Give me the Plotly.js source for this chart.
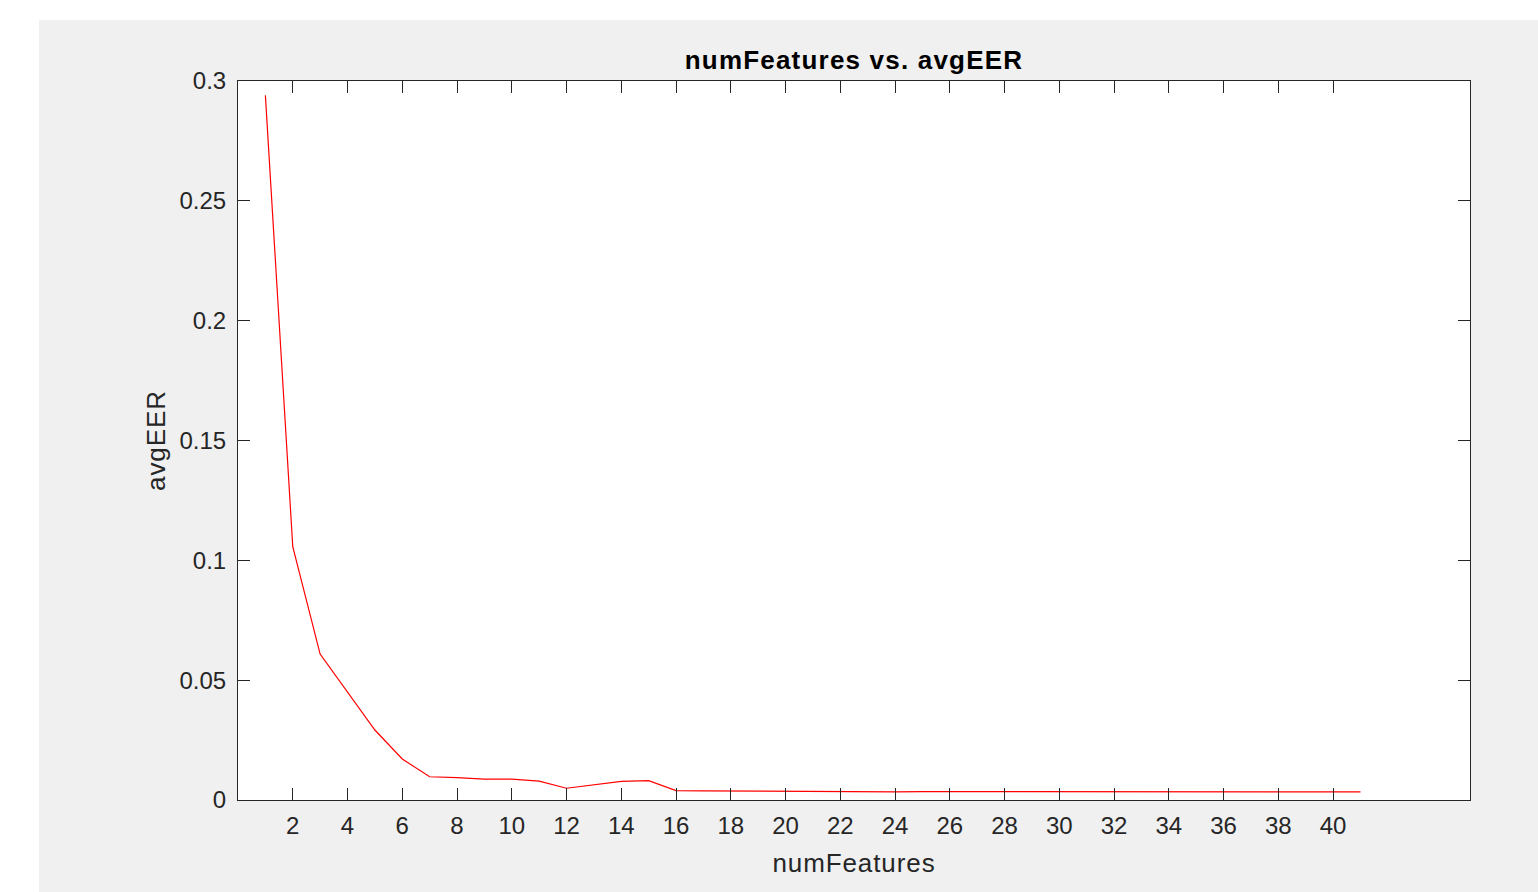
<!DOCTYPE html>
<html>
<head>
<meta charset="utf-8">
<script src="https://cdn.plot.ly/plotly-3.0.1.min.js"></script>
<style>
html,body{margin:0;padding:0;background:#ffffff;width:1538px;height:892px;overflow:hidden;}
#fig{position:absolute;left:39px;top:20px;width:1499px;height:872px;background:#f0f0f0;}
#fig .gtitle{letter-spacing:1.2px;}
#fig .xtitle, #fig .ytitle{letter-spacing:0.9px;}
</style>
</head>
<body>
<div id="fig"></div>
<script>
const numFeatures = [1,2,3,4,5,6,7,8,9,10,11,12,13,14,15,16,17,18,19,20,21,22,23,24,25,26,27,28,29,30,31,32,33,34,35,36,37,38,39,40,41];
const avgEER = [0.294,0.1057,0.0609,0.0450,0.0292,0.0171,0.0097,0.0093,0.0087,0.0087,0.0079,0.0049,0.0065,0.0078,0.0081,0.0039,0.0038,0.0037,0.0036,0.0035,0.0035,0.0035,0.0034,0.0034,0.0035,0.0035,0.0034,0.0034,0.0035,0.0035,0.0035,0.0035,0.0034,0.0034,0.0034,0.0034,0.0034,0.0034,0.0035,0.0035,0.0034];
const xTicks = [2,4,6,8,10,12,14,16,18,20,22,24,26,28,30,32,34,36,38,40];
const yTicks = [0,0.05,0.1,0.15,0.2,0.25,0.3];
const yTickText = ['0','0.05','0.1','0.15','0.2','0.25','0.3'];

const FONT = 'Liberation Sans, Arial, Helvetica, sans-serif';
const trace = {x:numFeatures, y:avgEER, type:'scatter', mode:'lines', line:{color:'#ff0000', width:1.2}, hoverinfo:'skip'};
const axisCommon = {showgrid:false, zeroline:false, showline:true, linecolor:'#262626', linewidth:1, mirror:'ticks', ticks:'inside', ticklen:12, tickcolor:'#262626', tickwidth:1, tickfont:{family:FONT, size:24, color:'#262626'}};
const layout = {
  width:1499, height:872,
  paper_bgcolor:'#f0f0f0', plot_bgcolor:'#ffffff',
  margin:{l:199, r:68, t:61, b:92},
  showlegend:false,
  title:{text:'<b>numFeatures vs. avgEER</b>', font:{family:FONT, size:26, color:'#000000'}, x:0.5, xref:'paper', y:1, yref:'paper', yanchor:'bottom', pad:{b:12}},
  xaxis:Object.assign({}, axisCommon, {range:[0,45], tickmode:'array', tickvals:xTicks, ticktext:xTicks.map(String), ticklabelstandoff:4, title:{text:'numFeatures', font:{family:FONT, size:26, color:'#262626'}, standoff:16}}),
  yaxis:Object.assign({}, axisCommon, {range:[0,0.3], tickmode:'array', tickvals:yTicks, ticktext:yTickText, ticklabelstandoff:6, title:{text:'avgEER', font:{family:FONT, size:26, color:'#262626'}, standoff:6}})
};
Plotly.newPlot('fig', [trace], layout, {displayModeBar:false, staticPlot:true});
</script>
</body>
</html>
